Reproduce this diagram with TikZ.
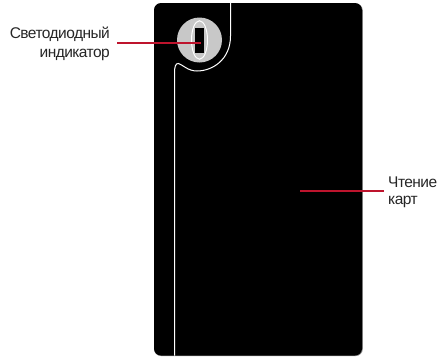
\documentclass[tikz,border=0pt]{standalone}
\usepackage{fontspec}
\usetikzlibrary{shapes.geometric}
\setmainfont[LetterSpace=-3.5]{Liberation Sans}
\definecolor{redline}{RGB}{190,20,45}
\definecolor{discgrey}{RGB}{200,200,200}
\tikzset{
  lbl/.style={inner sep=0pt, text=black!85},
  leader/.style={draw=redline, line width=2pt},
  whiteline/.style={draw=white, line width=1pt}
}
\begin{document}
\begin{tikzpicture}[x=1pt,y=-1pt]
\useasboundingbox (0,0) rectangle (440,357);
\fill[black!45,rounded corners=7pt] (154,3.5) rectangle (362.8,356);
\fill[black,rounded corners=7pt] (154,3) rectangle (362,355.5);
\node[circle,fill=discgrey,minimum size=45pt,inner sep=0pt] (disc) at (199.5,40) {};
\node[ellipse,draw=white,line width=1pt,minimum width=16pt,minimum height=38.5pt,inner sep=0pt] (oval) at (199.5,40) {};
\fill[black] (195,28) rectangle (203.5,53);
\draw[whiteline] (230.5,3) -- (230.5,36) .. controls (230.5,60) and (212,71) .. (197,71) .. controls (188,71) and (183,65) .. (178.5,63.5) .. controls (175.5,63) and (174.5,67) .. (174.5,73) -- (174.5,355.5);
\coordinate (ledend) at (201,42.5);
\coordinate (cardend) at (300,190.7);
\node[lbl,font=\fontsize{15.5}{19}\selectfont,align=right,anchor=north east] (led) at (110,27) {Светодиодный\\индикатор};
\node[lbl,font=\fontsize{15.5}{17}\selectfont,align=left,anchor=north west] (card) at (388,177) {Чтение\\карт};
\draw[leader] (117,42.5) -- (ledend);
\draw[leader] (384,190.7) -- (cardend);
\end{tikzpicture}
\end{document}
